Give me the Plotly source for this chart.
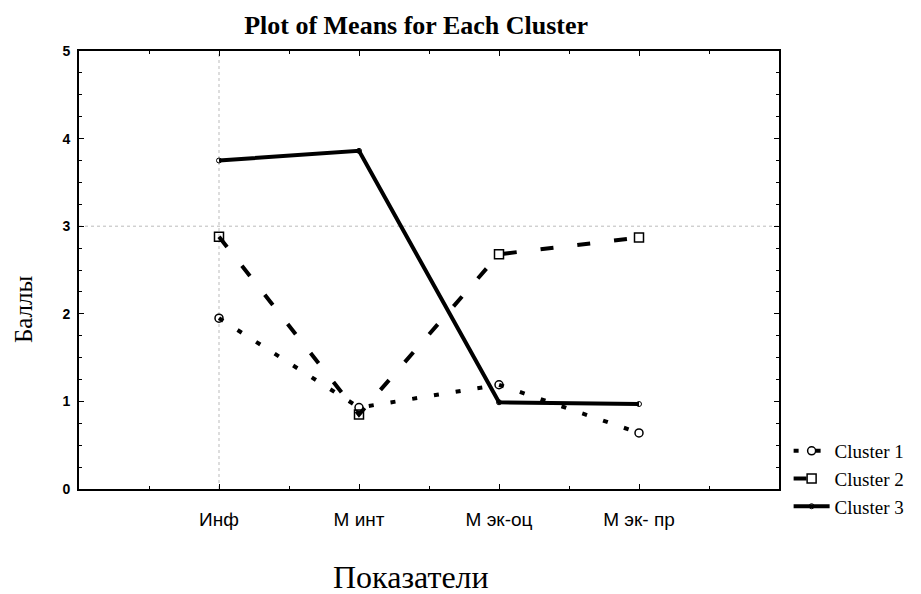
import plotly.graph_objects as go

categories = ["Инф", "М инт", "М эк-оц", "М эк- пр"]
cluster1 = [1.95, 0.93, 1.19, 0.64]
cluster2 = [2.88, 0.85, 2.68, 2.87]
cluster3 = [3.75, 3.86, 0.99, 0.97]
series_names = ["Cluster 1", "Cluster 2", "Cluster 3"]

xpos = list(range(len(categories)))

fig = go.Figure()
fig.add_trace(go.Scatter(
    x=xpos, y=cluster1, name=series_names[0], mode="lines+markers",
    line=dict(color="black", width=4, dash="5px,17px"),
    marker=dict(symbol="circle-open", size=8, color="black", line=dict(width=1.5)),
))
fig.add_trace(go.Scatter(
    x=xpos, y=cluster2, name=series_names[1], mode="lines+markers",
    line=dict(color="black", width=4, dash="13px,24px"),
    marker=dict(symbol="square-open", size=9, color="black", line=dict(width=1.5)),
))
fig.add_trace(go.Scatter(
    x=xpos, y=cluster3, name=series_names[2], mode="lines+markers",
    line=dict(color="black", width=4),
    marker=dict(symbol="circle-open", size=5, color="black", line=dict(width=1)),
))

# grid lines seen in the reference
fig.add_hline(y=3, line=dict(color="#bbbbbb", width=1, dash="dot"), layer="below")
fig.add_vline(x=xpos[0], line=dict(color="#bbbbbb", width=1, dash="dot"), layer="below")

# page body has an 8px margin; compensate so the chart fills the 921x594 window
fig.update_layout(
    width=913, height=586,
    margin=dict(l=71, r=142, t=43, b=105),
    plot_bgcolor="white", paper_bgcolor="white",
    title=dict(text="<b>Plot of Means for Each Cluster</b>", x=0.447, xanchor="center",
               y=0.972, yanchor="middle",
               font=dict(family="Liberation Serif", size=26, color="black")),
    showlegend=True,
    legend=dict(xref="container", yref="container", x=0.855, xanchor="left",
                y=0.2765, yanchor="top",
                font=dict(family="Liberation Serif", size=19, color="black"),
                bgcolor="rgba(0,0,0,0)", tracegroupgap=0, itemwidth=36),
    annotations=[
        dict(text="Баллы", x=-0.079, y=0.41, xref="paper", yref="paper", textangle=-90,
             showarrow=False, font=dict(family="Liberation Serif", size=25, color="black"),
             xanchor="center", yanchor="middle"),
        dict(text="Показатели", x=0.474, y=-0.201, xref="paper", yref="paper",
             showarrow=False, font=dict(family="Liberation Serif", size=32, color="black"),
             xanchor="center", yanchor="middle"),
    ],
)
fig.update_xaxes(
    range=[-1, 4], tickvals=xpos, ticktext=categories,
    showgrid=False, zeroline=False, automargin=False,
    showline=True, linecolor="black", linewidth=2, mirror="allticks",
    ticks="inside", ticklen=5, tickcolor="black",
    minor=dict(ticks="inside", tickvals=[-0.5, 0.5, 1.5, 2.5, 3.5], ticklen=3, tickcolor="black"),
    tickfont=dict(family="Liberation Sans", size=19, color="black"),
    ticklabelstandoff=12,
)
fig.update_yaxes(
    range=[0, 5], tickvals=[0, 1, 2, 3, 4, 5],
    showgrid=False, zeroline=False, automargin=False,
    showline=True, linecolor="black", linewidth=2, mirror="allticks",
    ticks="inside", ticklen=5, tickcolor="black",
    minor=dict(ticks="inside", dtick=0.25, ticklen=3, tickcolor="black"),
    tickfont=dict(family="Liberation Sans", size=14, color="black", weight="bold"),
    ticklabelstandoff=4,
)

fig.write_html("out.html")
